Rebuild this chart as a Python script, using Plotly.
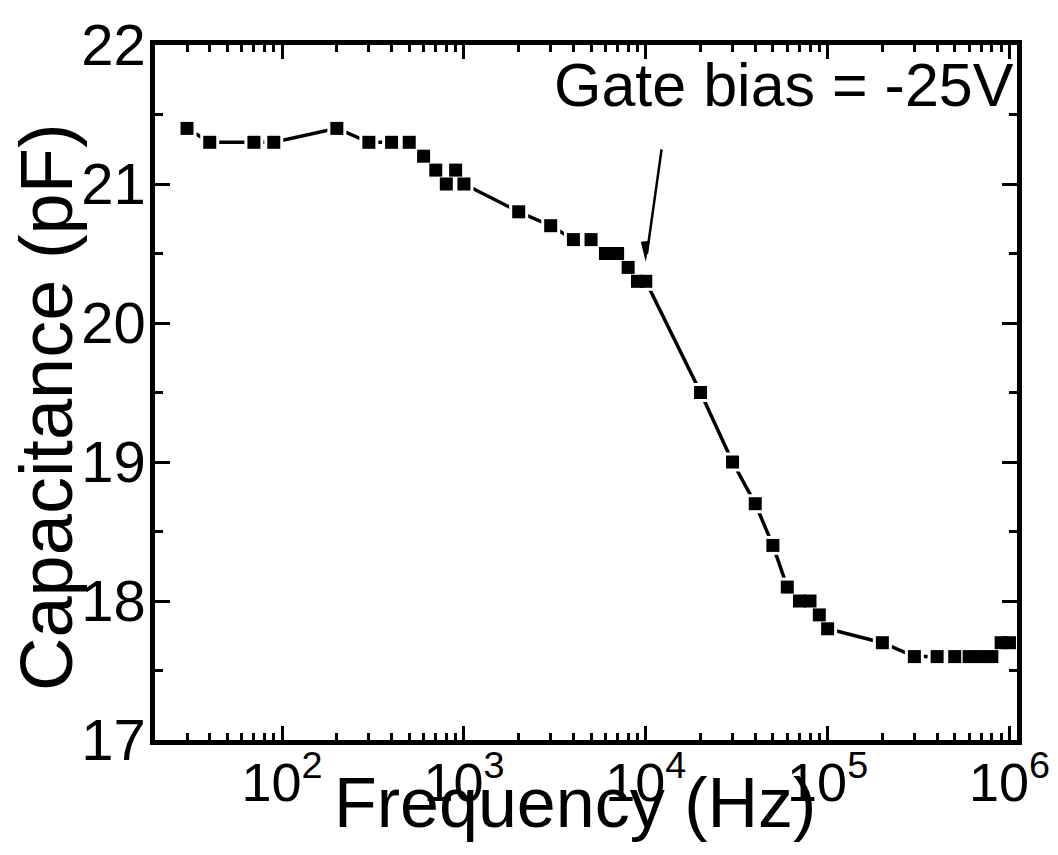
import numpy as np
import plotly.graph_objects as go

# Data
freq_hz = [30, 40, 70, 90, 200, 300, 400, 500, 600, 700, 800, 900, 1000,
           2000, 3000, 4000, 5000, 6000, 7000, 8000, 9000, 10000,
           20000, 30000, 40000, 50000, 60000, 70000, 80000, 90000, 100000,
           200000, 300000, 400000, 500000, 600000, 700000, 800000, 900000, 1000000]
capacitance_pf = [21.4, 21.3, 21.3, 21.3, 21.4, 21.3, 21.3, 21.3, 21.2, 21.1, 21.0, 21.1, 21.0,
                  20.8, 20.7, 20.6, 20.6, 20.5, 20.5, 20.4, 20.3, 20.3,
                  19.5, 19.0, 18.7, 18.4, 18.1, 18.0, 18.0, 17.9, 17.8,
                  17.7, 17.6, 17.6, 17.6, 17.6, 17.6, 17.6, 17.7, 17.7]

x_tick_vals = [1e2, 1e3, 1e4, 1e5, 1e6]
x_tick_text = ["10<sup>2</sup>", "10<sup>3</sup>", "10<sup>4</sup>", "10<sup>5</sup>", "10<sup>6</sup>"]
x_minor_vals = [m * 10 ** d for d in range(1, 6) for m in range(2, 10)]
y_tick_vals = [17, 18, 19, 20, 21, 22]
y_minor_vals = [17.5, 18.5, 19.5, 20.5, 21.5]

annotation_text = "Gate bias = -25V"
arrow_target = (1e4, 20.44)

FONT = "Liberation Sans, Arial, sans-serif"

fig = go.Figure()
fig.add_trace(go.Scatter(x=freq_hz, y=capacitance_pf, mode="lines",
                         line=dict(color="black", width=3.5), hoverinfo="skip", showlegend=False))
# white halos give the small gaps between line and symbols
fig.add_trace(go.Scatter(x=freq_hz, y=capacitance_pf, mode="markers",
                         marker=dict(symbol="square", size=19, color="white", line=dict(width=0)),
                         hoverinfo="skip", showlegend=False))
fig.add_trace(go.Scatter(x=freq_hz, y=capacitance_pf, mode="markers",
                         marker=dict(symbol="square", size=13, color="black", line=dict(width=0)),
                         showlegend=False))

axis_common = dict(showgrid=False, zeroline=False, showline=True, linecolor="black", linewidth=4.5,
                   mirror="allticks", ticks="inside", tickcolor="black", tickwidth=3,
                   automargin=False)

fig.update_xaxes(type="log", range=[np.log10(20), np.log10(1.1e6)],
                 tickvals=x_tick_vals, ticktext=x_tick_text, ticklen=14,
                 tickfont=dict(family=FONT, size=54, color="black"), ticklabelstandoff=-9,
                 minor=dict(tickvals=x_minor_vals, ticks="inside", ticklen=7, tickwidth=3,
                            tickcolor="black", showgrid=False),
                 **axis_common)
fig.update_yaxes(range=[17, 22], tickvals=y_tick_vals, ticklen=15,
                 tickfont=dict(family=FONT, size=58, color="black"), ticklabelstandoff=-7,
                 minor=dict(tickvals=y_minor_vals, ticks="inside", ticklen=8, tickwidth=3,
                            tickcolor="black", showgrid=False),
                 **axis_common)

L, R, T, B = 155, 41, 45, 115
W, H = 1058, 855
pw, ph = W - L - R, H - T - B

def px(x):
    return (x - L) / pw

def py(y):
    return (H - B - y) / ph

fig.add_annotation(text="Capacitance (pF)", textangle=-90, xref="paper", yref="paper",
                   x=px(46), y=py(407), xanchor="center", yanchor="middle", showarrow=False,
                   font=dict(family=FONT, size=74, color="black"))
fig.add_annotation(text="Frequency (Hz)", xref="paper", yref="paper",
                   x=px(575), y=py(803), xanchor="center", yanchor="middle", showarrow=False,
                   font=dict(family=FONT, size=70, color="black"))
fig.add_annotation(text=annotation_text, xref="paper", yref="paper",
                   x=px(784), y=py(85), xanchor="center", yanchor="middle", showarrow=False,
                   font=dict(family=FONT, size=61, color="black"))
# arrow shaft
fig.add_annotation(x=np.log10(arrow_target[0]), y=arrow_target[1], xref="x", yref="y",
                   text="", showarrow=True, arrowhead=0, arrowwidth=2.5, arrowcolor="black",
                   ax=16, ay=-114, standoff=8)
# narrow arrow head
fig.add_shape(type="path", xref="x", yref="y", xsizemode="pixel", ysizemode="pixel",
              xanchor=arrow_target[0], yanchor=arrow_target[1],
              path="M 0 0 L -5 20 L 4 21 Z", fillcolor="black", line=dict(width=0))

fig.update_layout(width=W, height=H, margin=dict(l=L, r=R, t=T, b=B),
                  plot_bgcolor="white", paper_bgcolor="white",
                  font=dict(family=FONT, color="black"))

fig.write_html("out.html")
